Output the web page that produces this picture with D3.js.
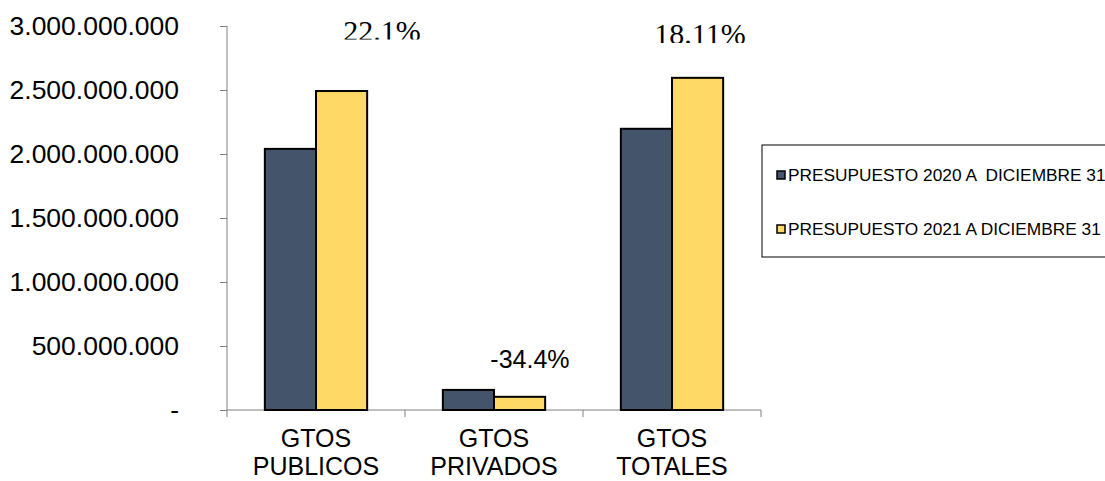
<!DOCTYPE html>
<html>
<head>
<meta charset="utf-8">
<script src="https://cdn.jsdelivr.net/npm/d3@7"></script>
<style>
  body { margin: 0; background: #fff; }
  svg { display: block; }
</style>
</head>
<body>
<div id="chart"></div>
<script>
// Data
const categories = [["GTOS", "PUBLICOS"], ["GTOS", "PRIVADOS"], ["GTOS", "TOTALES"]];
const series = ["PRESUPUESTO 2020 A  DICIEMBRE 31", "PRESUPUESTO 2021 A DICIEMBRE 31"];
const values2020 = [2040000000, 157000000, 2197000000];
const values2021 = [2492000000, 103000000, 2595000000];
const changeLabels = ["22.1%", "-34.4%", "18.11%"];
const yTicks = [0, 500000000, 1000000000, 1500000000, 2000000000, 2500000000, 3000000000];

const colors = ["#44546a", "#ffd966"];
const width = 1105, height = 481;
const margin = { top: 26, right: 344, bottom: 71, left: 227 };
const sans = "Liberation Sans, Arial, sans-serif";

const svg = d3.select("#chart").append("svg")
  .attr("width", width)
  .attr("height", height);

const x = d3.scaleBand()
  .domain(d3.range(categories.length))
  .range([margin.left, width - margin.right]);

const xInner = d3.scaleBand()
  .domain([0, 1])
  .range([0, x.bandwidth()])
  .paddingOuter(0.74);

const y = d3.scaleLinear()
  .domain([0, 3000000000])
  .range([height - margin.bottom, margin.top]);

const fmt = v => v === 0 ? "-" : d3.format(",")(v).replace(/,/g, ".");

// Y axis
const yAxis = svg.append("g")
  .attr("transform", `translate(${margin.left},0)`)
  .call(d3.axisLeft(y).tickValues(yTicks).tickFormat(fmt).tickSize(7).tickPadding(41));
yAxis.select(".domain").attr("stroke", "#808080").attr("d", `M0,${y(3000000000)}V${y(0)}`);
yAxis.selectAll(".tick line").attr("stroke", "#808080");
yAxis.selectAll(".tick text")
  .attr("font-family", sans)
  .attr("font-size", 26.5)
  .attr("fill", "#000");

// X axis
const xAxisG = svg.append("g")
  .attr("transform", `translate(0,${y(0)})`);
xAxisG.append("line")
  .attr("x1", margin.left).attr("x2", width - margin.right)
  .attr("stroke", "#808080");
const edges = d3.range(categories.length).map(i => x(i)).concat([width - margin.right]);
xAxisG.selectAll(".xtick")
  .data(edges)
  .enter().append("line")
  .attr("x1", d => d).attr("x2", d => d)
  .attr("y1", 0).attr("y2", 7)
  .attr("stroke", "#808080");

const catText = xAxisG.selectAll(".cat")
  .data(categories)
  .enter().append("text")
  .attr("text-anchor", "middle")
  .attr("font-family", sans)
  .attr("font-size", 25)
  .attr("fill", "#000");
catText.each(function(d, i) {
  const t = d3.select(this);
  d.forEach((line, j) => {
    t.append("tspan")
      .attr("x", x(i) + x.bandwidth() / 2)
      .attr("y", 37 + j * 28)
      .text(line);
  });
});

// Bars
const groups = svg.selectAll(".grp")
  .data(categories.map((c, i) => [values2020[i], values2021[i]]))
  .enter().append("g")
  .attr("transform", (d, i) => `translate(${x(i)},0)`);

groups.selectAll("rect")
  .data(d => d)
  .enter().append("rect")
  .attr("x", (d, j) => xInner(j))
  .attr("width", xInner.bandwidth())
  .attr("y", d => y(d))
  .attr("height", d => y(0) - y(d))
  .attr("fill", (d, j) => colors[j])
  .attr("stroke", "#000")
  .attr("stroke-width", 2);

// Change labels (top two are cut at the bottom like in the source)
const defs = svg.append("defs");
const labelPos = [
  { x: x(0) + x.bandwidth() * 0.871, y: 41, clip: 39.5, serif: true },
  { x: x(1) + x.bandwidth() * 0.702, y: 368, clip: null, serif: false },
  { x: x(2) + x.bandwidth() * 0.657, y: 44, clip: 43, serif: true }
];
changeLabels.forEach((lab, i) => {
  const p = labelPos[i];
  if (p.clip) {
    defs.append("clipPath").attr("id", "clip" + i)
      .append("rect").attr("x", p.x - 80).attr("y", 0).attr("width", 160).attr("height", p.clip);
  }
  svg.append("text")
    .attr("x", p.x).attr("y", p.y)
    .attr("text-anchor", "middle")
    .attr("font-family", p.serif ? "Liberation Serif, Times New Roman, serif" : sans)
    .attr("font-size", p.serif ? 30 : 25)
    .attr("fill", "#000")
    .attr("clip-path", p.clip ? `url(#clip${i})` : null)
    .text(lab);
});

// Legend
const legend = svg.append("g").attr("transform", "translate(762,145)");
legend.append("rect")
  .attr("x", 0).attr("y", 0).attr("width", 400).attr("height", 112)
  .attr("fill", "#fff").attr("stroke", "#000").attr("stroke-width", 1);
series.forEach((s, i) => {
  const gy = 30 + i * 54;
  legend.append("rect")
    .attr("x", 15).attr("y", gy - 4).attr("width", 8).attr("height", 8)
    .attr("fill", colors[i]).attr("stroke", "#000").attr("stroke-width", 1.5);
  legend.append("text")
    .attr("x", 26).attr("y", gy + 6)
    .attr("font-family", sans)
    .attr("font-size", 17.3)
    .attr("fill", "#000")
    .style("white-space", "pre")
    .text(s);
});
</script>
</body>
</html>
